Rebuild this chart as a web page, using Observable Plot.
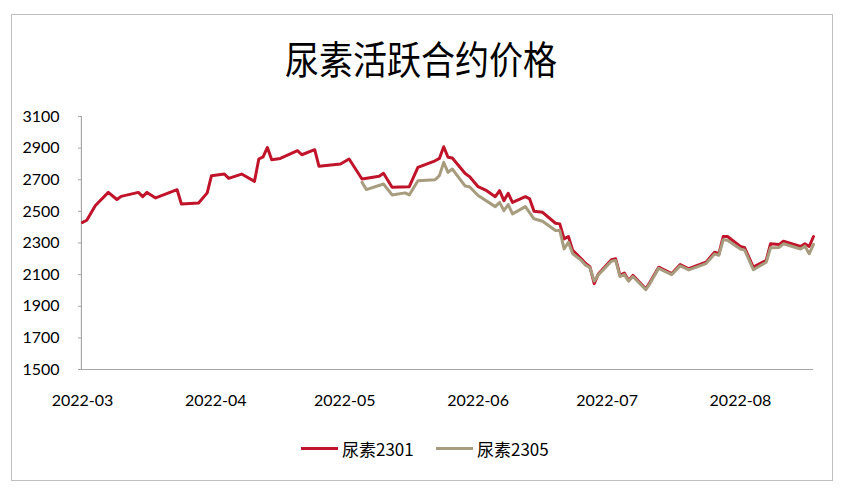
<!DOCTYPE html>
<html>
<head>
<meta charset="utf-8">
<script src="https://cdn.jsdelivr.net/npm/d3@7"></script>
<script src="https://cdn.jsdelivr.net/npm/@observablehq/plot@0.6"></script>
<style>
  html, body { margin: 0; padding: 0; background: #fff; }
  body { width: 842px; height: 493px; position: relative; overflow: hidden; font-family: Lato, "Noto Sans CJK SC", sans-serif; }
  #frame { position: absolute; left: 11px; top: 14px; width: 822px; height: 467px; border: 1.5px solid #BFBFBF; box-sizing: border-box; }
  #title { position: absolute; left: 0; width: 842px; top: 36px; text-align: center; font-family: "Noto Sans CJK SC", sans-serif; font-size: 34px; color: #000; transform: scaleY(1.12); transform-origin: center top; line-height: 1.2; }
  #chart { position: absolute; left: 0; top: 0; }
  #legend { position: absolute; top: 436px; left: 0; width: 842px; height: 24px; }
  .item { position: absolute; top: 0; height: 24px; display: flex; align-items: center; font-family: "Noto Sans CJK SC", sans-serif; font-size: 17px; color: #000; }
  .sw { display: inline-block; width: 37px; height: 3px; margin-right: 4px; }
</style>
</head>
<body>
<div id="frame"></div>
<div id="chart"></div>
<div id="title">尿素活跃合约价格</div>
<div id="legend"></div>
<script>
const seriesNames = ["尿素2301", "尿素2305"];
const seriesColors = ["#C0142A", "#A89C7E"];

const dates2301 = [
  "2022-03-01","2022-03-02","2022-03-04","2022-03-07","2022-03-09","2022-03-10","2022-03-14","2022-03-15",
  "2022-03-16","2022-03-18","2022-03-23","2022-03-24","2022-03-28","2022-03-30","2022-03-31","2022-04-03",
  "2022-04-04","2022-04-07","2022-04-10","2022-04-11","2022-04-12","2022-04-13","2022-04-14","2022-04-16",
  "2022-04-20","2022-04-21","2022-04-24","2022-04-25","2022-04-30","2022-05-02","2022-05-05","2022-05-09",
  "2022-05-10","2022-05-12","2022-05-16","2022-05-18","2022-05-22","2022-05-23","2022-05-24","2022-05-25",
  "2022-05-26","2022-05-29","2022-05-30","2022-06-01","2022-06-03","2022-06-05","2022-06-06","2022-06-07",
  "2022-06-08","2022-06-09","2022-06-12","2022-06-13","2022-06-14","2022-06-16","2022-06-19","2022-06-20",
  "2022-06-21","2022-06-22","2022-06-23","2022-06-25","2022-06-26","2022-06-27","2022-06-28","2022-06-29",
  "2022-07-02","2022-07-03","2022-07-04","2022-07-05","2022-07-06","2022-07-07","2022-07-10","2022-07-11",
  "2022-07-13","2022-07-16","2022-07-18","2022-07-20","2022-07-24","2022-07-26","2022-07-27","2022-07-28",
  "2022-07-29","2022-08-01","2022-08-02","2022-08-04","2022-08-07","2022-08-08","2022-08-10","2022-08-11",
  "2022-08-15","2022-08-16","2022-08-17","2022-08-18"
];
const price2301 = [
  2430,2444,2537,2620,2575,2595,2620,2593,
  2620,2585,2637,2547,2553,2617,2726,2736,
  2709,2736,2690,2831,2845,2904,2827,2835,
  2884,2858,2890,2785,2800,2831,2705,2722,
  2741,2652,2656,2778,2820,2835,2909,2842,
  2837,2740,2720,2656,2631,2593,2631,2568,
  2614,2557,2593,2579,2501,2494,2425,2421,
  2326,2341,2253,2200,2170,2150,2043,2106,
  2194,2200,2095,2110,2063,2095,2011,2053,
  2147,2106,2164,2137,2179,2242,2232,2341,
  2341,2278,2270,2147,2190,2295,2290,2311,
  2278,2295,2278,2341
];

const dates2305 = [
  "2022-05-05","2022-05-06","2022-05-10","2022-05-12","2022-05-15","2022-05-16","2022-05-18","2022-05-22",
  "2022-05-23","2022-05-24","2022-05-25","2022-05-26","2022-05-29","2022-05-30","2022-06-01","2022-06-05",
  "2022-06-06","2022-06-07","2022-06-08","2022-06-09","2022-06-12","2022-06-14","2022-06-16","2022-06-19",
  "2022-06-20","2022-06-21","2022-06-22","2022-06-23","2022-06-25","2022-06-26","2022-06-27","2022-06-28",
  "2022-06-29","2022-07-02","2022-07-03","2022-07-04","2022-07-05","2022-07-06","2022-07-07","2022-07-10",
  "2022-07-11","2022-07-13","2022-07-16","2022-07-18","2022-07-20","2022-07-24","2022-07-26","2022-07-27",
  "2022-07-28","2022-07-29","2022-08-01","2022-08-02","2022-08-04","2022-08-07","2022-08-08","2022-08-10",
  "2022-08-11","2022-08-15","2022-08-16","2022-08-17","2022-08-18"
];
const price2305 = [
  2684,2638,2673,2604,2617,2604,2694,2700,
  2726,2810,2747,2768,2660,2656,2600,2530,
  2557,2505,2543,2484,2530,2453,2438,2379,
  2379,2263,2305,2232,2190,2160,2145,2059,
  2100,2185,2190,2088,2100,2058,2088,2005,
  2045,2140,2100,2155,2130,2170,2230,2222,
  2320,2318,2262,2255,2131,2178,2270,2272,
  2295,2262,2280,2232,2291
];

const yTicks = [1500,1700,1900,2100,2300,2500,2700,2900,3100];
const xTickLabels = ["2022-03","2022-04","2022-05","2022-06","2022-07","2022-08"];

const data = [
  ...dates2301.map((d, i) => ({date: new Date(d), value: price2301[i], series: seriesNames[0]})),
  ...dates2305.map((d, i) => ({date: new Date(d), value: price2305[i], series: seriesNames[1]}))
];
const xTicks = xTickLabels.map(s => new Date(s + "-01"));

const axisColor = "#A6A6A6";

const chart = Plot.plot({
  width: 842,
  height: 420,
  marginLeft: 82,
  marginRight: 29,
  marginTop: 116,
  marginBottom: 51,
  style: {background: "transparent", fontFamily: "Lato, sans-serif", fontSize: "16px", color: "#000"},
  x: {type: "utc", domain: [new Date("2022-03-01"), new Date("2022-08-18")], ticks: xTicks, tickFormat: d3.utcFormat("%Y-%m"), tickSize: 0, tickPadding: 25, label: null},
  y: {domain: [1500, 3100], ticks: yTicks, tickFormat: d => String(d), tickSize: 4, tickPadding: 19, label: null},
  color: {domain: seriesNames, range: seriesColors},
  marks: [
    Plot.axisY({ticks: yTicks, tickFormat: d => String(d), tickSize: 4, tickPadding: 19, stroke: axisColor, fill: "#000", fontSize: 16, label: null}),
    Plot.axisX({ticks: xTicks, tickFormat: d3.utcFormat("%Y-%m"), tickSize: 0, tickPadding: 25, fill: "#000", fontSize: 16, label: null}),
    Plot.ruleY([1500], {stroke: axisColor, strokeWidth: 1.2, x1: new Date("2022-02-28T18:00"), x2: new Date("2022-08-18")}),
    Plot.ruleX([new Date("2022-02-28T18:00")], {stroke: axisColor, strokeWidth: 1.2, y1: 1500, y2: 3100}),
    Plot.line(data.filter(d => d.series === seriesNames[0]), {x: "date", y: "value", stroke: "series", strokeWidth: 3, strokeLinejoin: "round"}),
    Plot.line(data.filter(d => d.series === seriesNames[1]), {x: "date", y: "value", stroke: "series", strokeWidth: 3, strokeLinejoin: "round"})
  ]
});
document.getElementById("chart").appendChild(chart);

const legend = document.getElementById("legend");
const legendX = [301, 436];
seriesNames.forEach((name, i) => {
  const item = document.createElement("div");
  item.className = "item";
  item.style.left = legendX[i] + "px";
  const sw = document.createElement("span");
  sw.className = "sw";
  sw.style.background = seriesColors[i];
  item.appendChild(sw);
  item.appendChild(document.createTextNode(name));
  legend.appendChild(item);
});
</script>
</body>
</html>
